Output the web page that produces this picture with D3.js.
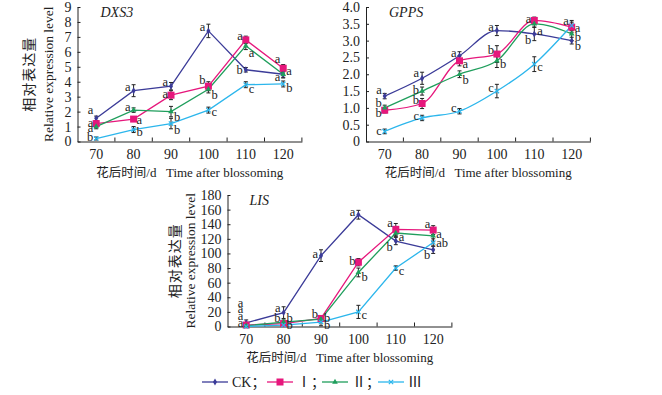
<!DOCTYPE html>
<html><head><meta charset="utf-8">
<script src="https://cdn.jsdelivr.net/npm/d3@7"></script>
<style>
body{margin:0;background:#fff;}
svg{display:block;}
text{font-family:"Liberation Serif","Times New Roman",serif;fill:#222;}
.cjk{font-family:"Noto Sans CJK SC",sans-serif;}
</style></head><body>
<svg id="chart" width="662" height="395"></svg>
<script>
const categories = [70, 80, 90, 100, 110, 120];
const seriesNames = ["CK", "Ⅰ", "Ⅱ", "Ⅲ"];

// DXS3
const dxs3CK  = [1.55, 3.4, 3.7, 7.4, 4.8, 4.5];
const dxs3I   = [1.2, 1.5, 3.1, 3.7, 6.8, 4.9];
const dxs3II  = [1.0, 2.1, 2.0, 3.5, 6.4, 4.5];
const dxs3III = [0.2, 0.8, 1.2, 2.1, 3.8, 3.85];
const dxs3ErrCK  = [0.15, 0.4, 0.25, 0.45, 0.15, 0.2];
const dxs3ErrI   = [0.15, 0.15, 0.3, 0.3, 0.25, 0.25];
const dxs3ErrII  = [0.15, 0.15, 0.35, 0.25, 0.25, 0.25];
const dxs3ErrIII = [0.1, 0.2, 0.35, 0.2, 0.2, 0.2];
const dxs3Ticks = [0,1,2,3,4,5,6,7,8,9];
// [category index, letter, side, label value]
const dxs3Letters = [
  [0,"a","l",2.1],[0,"a","l",1.25],[0,"a","l",0.9],[0,"b","l",0.3],
  [1,"a","l",3.65],[1,"a","l",2.3],[1,"a","r",1.45],[1,"b","r",0.65],
  [2,"a","l",4.0],[2,"a","l",3.2],[2,"b","r",1.65],[2,"b","r",0.8],
  [3,"a","l",7.7],[3,"b","l",4.15],[3,"b","r",3.1],[3,"c","r",1.95],
  [4,"a","l",7.1],[4,"a","r",5.9],[4,"b","l",4.8],[4,"c","r",3.5],
  [5,"a","l",5.5],[5,"a","r",4.75],[5,"a","l",4.3],[5,"b","r",3.6]
];

// GPPS
const gppsCK  = [1.35, 1.88, 2.55, 3.3, 3.2, 3.0];
const gppsI   = [0.93, 1.13, 2.4, 2.6, 3.6, 3.4];
const gppsII  = [1.0, 1.5, 2.0, 2.4, 3.5, 3.2];
const gppsIII = [0.3, 0.7, 0.9, 1.5, 2.3, 3.45];
const gppsErrCK  = [0.08, 0.18, 0.12, 0.15, 0.2, 0.1];
const gppsErrI   = [0.08, 0.15, 0.15, 0.25, 0.1, 0.15];
const gppsErrII  = [0.08, 0.12, 0.1, 0.2, 0.1, 0.2];
const gppsErrIII = [0.07, 0.08, 0.08, 0.2, 0.22, 0.15];
const gppsTicks = [0,0.5,1,1.5,2,2.5,3,3.5,4];
const gppsTickLabels = ["0","0.5","1.0","1.5","2.0","2.5","3.0","3.5","4.0"];
const gppsLetters = [
  [0,"a","l",1.53],[0,"b","l",1.15],[0,"b","l",0.85],[0,"c","l",0.32],
  [1,"a","l",2.03],[1,"b","l",1.53],[1,"b","l",1.24],[1,"c","l",0.77],
  [2,"a","l",2.63],[2,"a","r",2.3],[2,"b","r",1.83],[2,"c","l",1.0],
  [3,"a","l",3.4],[3,"b","l",2.72],[3,"b","r",2.3],[3,"c","l",1.59],
  [4,"a","l",3.64],[4,"a","r",3.29],[4,"b","l",3.02],[4,"c","r",2.22],
  [5,"a","l",3.6],[5,"a","r",3.37],[5,"b","r",3.11],[5,"b","r",2.84]
];

// LIS
const lisCK  = [5, 19, 97, 153, 117, 105];
const lisI   = [2, 4, 11, 88, 133, 132];
const lisII  = [1, 6, 10, 74, 128, 124];
const lisIII = [0, 2, 6, 20, 80, 115];
const lisErrCK  = [4, 8, 8, 6, 5, 5];
const lisErrI   = [2, 3, 3, 5, 8, 6];
const lisErrII  = [2, 3, 3, 6, 5, 8];
const lisErrIII = [1, 2, 5, 9, 3, 5];
const lisTicks = [0,20,40,60,80,100,120,140,160,180];
const lisLetters = [
  [0,"a","l",32],[0,"a","l",23.5],[0,"a","l",15],[0,"a","l",4.4],
  [1,"a","l",26],[1,"b","l",12],[1,"b","r",12],[1,"b","r",2],
  [2,"a","l",100],[2,"b","l",17],[2,"b","r",12],[2,"b","r",2],
  [3,"a","l",157],[3,"b","l",90],[3,"b","r",67.5],[3,"c","r",16],
  [4,"a","l",141.5],[4,"a","r",122],[4,"b","l",109.5],[4,"c","r",76],
  [5,"a","l",140],[5,"a","r",126.5],[5,"ab","r",115],[5,"b","l",98]
];

const colors = ["#3b3b98", "#e6177c", "#1f9e5c", "#2cb6ec"];
const markers = ["diamond", "square", "triangle", "cross"];

const svg = d3.select("#chart");

function drawMarker(g, type, color, x, y) {
  if (type === "square") {
    g.append("rect").attr("x", x-3.5).attr("y", y-3.5).attr("width",7).attr("height",7).attr("fill",color);
  } else if (type === "diamond") {
    g.append("path").attr("d", d3.symbol(d3.symbolDiamond, 14)()).attr("transform",`translate(${x},${y})`).attr("fill",color);
  } else if (type === "triangle") {
    g.append("path").attr("d", d3.symbol(d3.symbolTriangle, 14)()).attr("transform",`translate(${x},${y})`).attr("fill",color);
  } else {
    g.append("path").attr("d", d3.symbol(d3.symbolX, 14)()).attr("transform",`translate(${x},${y})`).attr("stroke",color).attr("stroke-width",1.2).attr("fill","none");
  }
}

function panel(cfg) {
  const g = svg.append("g");
  const x = d3.scaleBand().domain(categories).range([cfg.x0, cfg.x0 + 224.4]).padding(0);
  const y = d3.scaleLinear().domain([0, cfg.ticks[cfg.ticks.length-1]]).range([cfg.yb, cfg.yt]);
  const cx = d => x(d) + x.bandwidth()/2;

  // x axis
  const xa = g.append("g").attr("transform", `translate(0,${cfg.yb})`)
    .call(d3.axisBottom(x).tickSize(0).tickSizeOuter(0).tickPadding(8));
  xa.select(".domain").attr("stroke","#222").attr("stroke-width",1);
  xa.selectAll("text").attr("font-size", 14).attr("font-family","Liberation Serif").attr("fill","#222");
  g.selectAll(null).data(categories).enter().append("line")
    .attr("x1", d => x(d) + x.bandwidth()).attr("x2", d => x(d) + x.bandwidth())
    .attr("y1", cfg.yb).attr("y2", cfg.yb - 4).attr("stroke","#222");

  // y axis
  const ya = g.append("g").attr("transform", `translate(${cfg.x0},0)`)
    .call(d3.axisLeft(y).tickValues(cfg.ticks).tickSizeInner(-3).tickSizeOuter(0).tickPadding(6)
      .tickFormat((d,i) => cfg.tickLabels ? cfg.tickLabels[i] : d));
  ya.select(".domain").attr("stroke","#222").attr("stroke-width",1);
  ya.selectAll("line").attr("stroke","#222");
  ya.selectAll("text").attr("font-size", 14).attr("font-family","Liberation Serif").attr("fill","#222");

  // title
  g.append("text").attr("x", cfg.x0 + cfg.titleDx).attr("y", cfg.yt + 10)
    .attr("font-style","italic").attr("font-size", 14).text(cfg.title);

  // x title
  const xt = g.append("text").attr("x", cfg.x0 + 112.2).attr("y", cfg.yb + 35).attr("text-anchor","middle").attr("font-size", 13);
  xt.append("tspan").attr("class","cjk").attr("font-size", 12.5).text("花后时间");
  xt.append("tspan").text("/d\u2002 Time after blossoming");

  // y title
  if (cfg.yTitle) {
    const my = (cfg.yb + cfg.yt)/2;
    g.append("text").attr("class","cjk").attr("transform", `translate(${cfg.x0 - cfg.yTitleOff2},${my}) rotate(-90)`)
      .attr("text-anchor","middle").attr("font-size", 14).attr("letter-spacing", 1).text("相对表达量");
    g.append("text").attr("transform", `translate(${cfg.x0 - cfg.yTitleOff1},${my}) rotate(-90)`)
      .attr("text-anchor","middle").attr("font-size", 13.5).text("Relative expression level");
  }

  const line = d3.line().x((d,i) => cx(categories[i])).y(d => y(d)).curve(cfg.curve || d3.curveLinear);
  cfg.series.forEach((s, si) => {
    g.append("path").datum(s).attr("d", line).attr("fill","none").attr("stroke", colors[si]).attr("stroke-width", 1.3);
  });
  cfg.series.forEach((s, si) => {
    const err = cfg.errs[si];
    s.forEach((v, i) => {
      const px = cx(categories[i]);
      const y1 = y(v + err[i]), y2 = y(Math.max(0, v - err[i]));
      g.append("line").attr("x1",px).attr("x2",px).attr("y1",y1).attr("y2",y2).attr("stroke","#222").attr("stroke-width",1);
      g.append("line").attr("x1",px-2).attr("x2",px+2).attr("y1",y1).attr("y2",y1).attr("stroke","#222").attr("stroke-width",1);
      g.append("line").attr("x1",px-2).attr("x2",px+2).attr("y1",y2).attr("y2",y2).attr("stroke","#222").attr("stroke-width",1);
    });
  });
  cfg.series.forEach((s, si) => {
    s.forEach((v, i) => drawMarker(g, markers[si], colors[si], cx(categories[i]), y(v)));
  });
  cfg.letters.forEach(([ci, t, side, val]) => {
    const px = cx(categories[ci]);
    g.append("text").attr("x", side === "l" ? px - 3 : px + 3).attr("y", y(val)).attr("dy","0.33em")
      .attr("text-anchor", side === "l" ? "end" : "start").attr("font-size", 12.5).text(t);
  });
}

panel({title:"DXS3", titleDx: 23, x0: 77.5, yb: 141.5, yt: 7, ticks: dxs3Ticks,
  series:[dxs3CK,dxs3I,dxs3II,dxs3III], errs:[dxs3ErrCK,dxs3ErrI,dxs3ErrII,dxs3ErrIII],
  letters: dxs3Letters, yTitle:true, yTitleOff1: 25, yTitleOff2: 44});
panel({title:"GPPS", titleDx: 23, x0: 366, yb: 141.5, yt: 7, ticks: gppsTicks, tickLabels: gppsTickLabels,
  series:[gppsCK,gppsI,gppsII,gppsIII], errs:[gppsErrCK,gppsErrI,gppsErrII,gppsErrIII],
  letters: gppsLetters, yTitle:false, curve: d3.curveMonotoneX});
panel({title:"LIS", titleDx: 22, x0: 227.5, yb: 326.5, yt: 195, ticks: lisTicks,
  series:[lisCK,lisI,lisII,lisIII], errs:[lisErrCK,lisErrI,lisErrII,lisErrIII],
  letters: lisLetters, yTitle:true, yTitleOff1: 33, yTitleOff2: 48});

// legend
const legX = [202, 267, 322, 378];
const leg = svg.append("g");
seriesNames.forEach((n, i) => {
  const x0 = legX[i], yy = 382;
  leg.append("line").attr("x1", x0).attr("x2", x0 + 26).attr("y1", yy).attr("y2", yy).attr("stroke", colors[i]).attr("stroke-width", 1.3);
  drawMarker(leg, markers[i], colors[i], x0 + 13, yy);
  const t = leg.append("text").attr("x", x0 + 30).attr("y", yy).attr("dy","0.35em").attr("font-size", 14);
  t.append("tspan").attr("class", i === 0 ? null : "cjk").text(n);
  if (i < 3) t.append("tspan").attr("class","cjk").text("；");
});
</script>
</body></html>
